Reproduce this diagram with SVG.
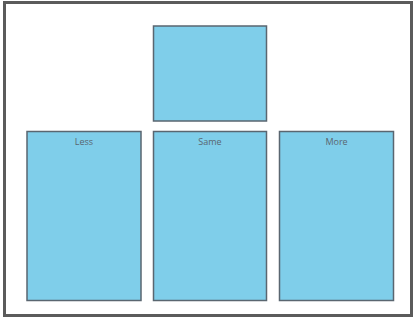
<svg xmlns="http://www.w3.org/2000/svg" width="415" height="320" viewBox="0 0 415 320">
<style>
.box{fill:#7fceea;stroke:#5a6670;stroke-width:1.5}
.lbl{font-family:"Open Sans","Liberation Sans",sans-serif;font-size:9px;fill:#5a6670;text-anchor:middle}
</style>
<rect x="0" y="0" width="415" height="320" fill="#ffffff"/>
<rect x="4.5" y="2.5" width="407" height="313" fill="#ffffff" stroke="#5b5b5b" stroke-width="3"/>
<g id="connectors"></g>
<g id="top"><rect class="box" x="153.5" y="26" width="113" height="95"/></g>
<g id="less"><rect class="box" x="27" y="131.5" width="114" height="169"/><text class="lbl" x="84" y="145">Less</text></g>
<g id="same"><rect class="box" x="153.5" y="131.5" width="113" height="169"/><text class="lbl" x="210" y="145">Same</text></g>
<g id="more"><rect class="box" x="279.5" y="131.5" width="114" height="169"/><text class="lbl" x="336.5" y="145">More</text></g>
</svg>
